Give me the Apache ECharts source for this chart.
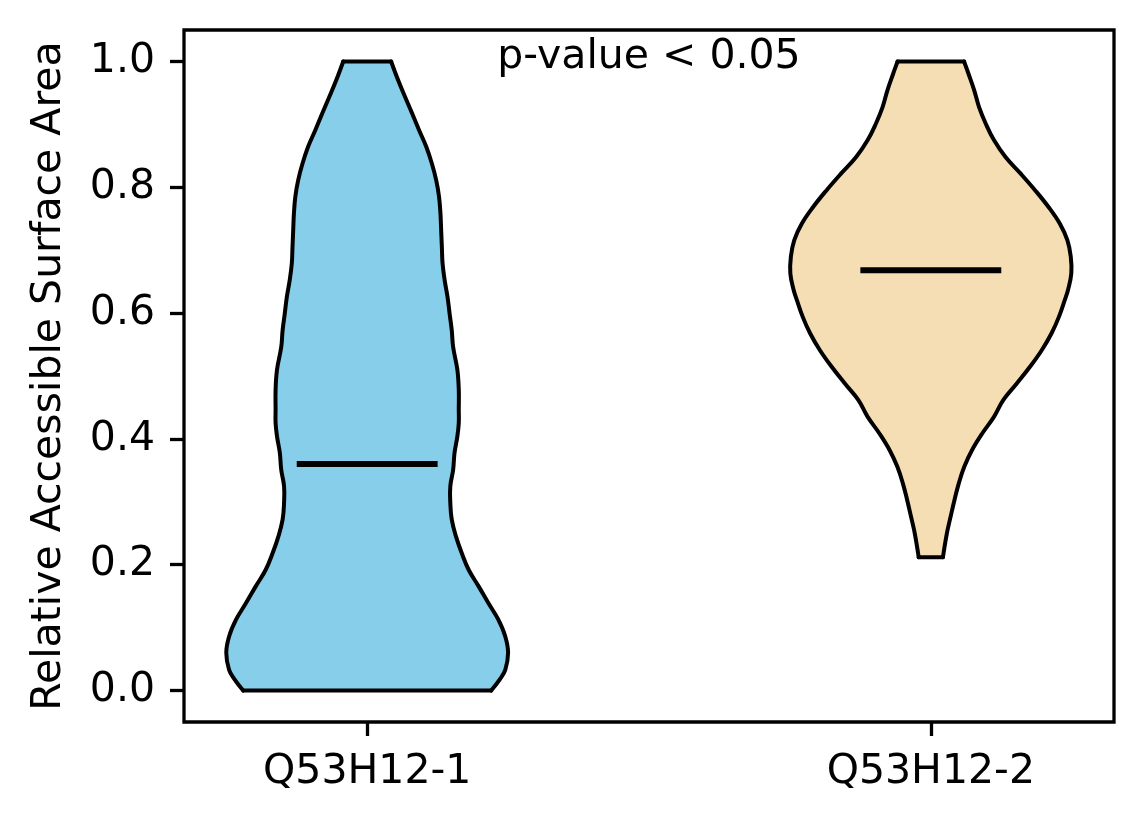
<!DOCTYPE html>
<html>
<head>
<meta charset="utf-8">
<title>Relative Accessible Surface Area</title>
<script src="https://cdn.jsdelivr.net/npm/echarts@6/dist/echarts.min.js"></script>
<style>
	html, body { margin: 0; padding: 0; background: #fff; }
	#main { width: 1144px; height: 824px; }
</style>
</head>
<body>
<div id="main"></div>
<script>
// categories and medians
var categories = ['Q53H12-1', 'Q53H12-2']
var medians = [0.36, 0.668]
var yTicks = [0, 0.2, 0.4, 0.6, 0.8, 1.0]
var note = 'p-value < 0.05'

// violin outlines: y value and density (1 = widest point)
var v1Y = [0.0, 0.0175, 0.033, 0.06, 0.086, 0.113, 0.139, 0.166, 0.192, 0.219, 0.245, 0.272,
	0.298, 0.325, 0.351, 0.378, 0.404, 0.425, 0.446, 0.478, 0.51, 0.546, 0.573, 0.599, 0.626,
	0.652, 0.679, 0.705, 0.732, 0.758, 0.785, 0.811, 0.837, 0.864, 0.89, 0.917, 0.943, 0.97, 1.0]
var v1D = [0.88, 0.94, 0.98, 1.0, 0.98, 0.93, 0.86, 0.79, 0.72, 0.67, 0.63, 0.6,
	0.59, 0.59, 0.61, 0.62, 0.64, 0.65, 0.65, 0.65, 0.64, 0.61, 0.6, 0.585, 0.57,
	0.55, 0.535, 0.53, 0.525, 0.52, 0.51, 0.49, 0.46, 0.42, 0.37, 0.32, 0.27, 0.22, 0.17]

var v2Y = [0.212, 0.25, 0.276, 0.303, 0.329, 0.356, 0.382, 0.409, 0.435, 0.462, 0.488, 0.515,
	0.541, 0.568, 0.594, 0.621, 0.637, 0.663, 0.69, 0.716, 0.742, 0.769, 0.795, 0.822, 0.848,
	0.875, 0.901, 0.927, 0.954, 0.98, 1.0]
var v2D = [0.086, 0.114, 0.14, 0.168, 0.198, 0.238, 0.292, 0.366, 0.448, 0.515, 0.61, 0.705,
	0.787, 0.857, 0.909, 0.951, 0.974, 0.997, 0.993, 0.969, 0.916, 0.834, 0.741, 0.636, 0.53,
	0.448, 0.39, 0.343, 0.308, 0.268, 0.236]

var profiles = [{y: v1Y, d: v1D}, {y: v2Y, d: v2D}]
var fills = ['#87CEEB', '#F5DEB3']
var font = 'DejaVu Sans'

var chart = echarts.init(document.getElementById('main'), null, {renderer: 'canvas'})

function renderViolin(params, api){
	var i = params.dataIndex,
		pos = api.value(0),
		prof = profiles[i],
		half = 0.25,
		left = [], right = []
	for(var k = 0; k < prof.y.length; k++){
		left.push(api.coord([pos - half * prof.d[k], prof.y[k]]))
		right.push(api.coord([pos + half * prof.d[k], prof.y[k]]))
	}
	var n = left.length - 1,
		edge = {stroke: '#000', lineWidth: 4, lineCap: 'round', fill: null},
		m0 = api.coord([pos - 0.125, api.value(1)]),
		m1 = api.coord([pos + 0.125, api.value(1)])
	return {
		type: 'group',
		children: [
			// body
			{type: 'polygon', shape: {points: left.concat(right.slice().reverse())},
				style: {fill: fills[i], stroke: null}},
			// outline: smooth sides, flat ends
			{type: 'polyline', shape: {points: left.slice(), smooth: 0.4}, style: edge},
			{type: 'polyline', shape: {points: right.slice(), smooth: 0.4}, style: edge},
			{type: 'line', shape: {x1: left[0][0], y1: left[0][1], x2: right[0][0], y2: right[0][1]}, style: edge},
			{type: 'line', shape: {x1: left[n][0], y1: left[n][1], x2: right[n][0], y2: right[n][1]}, style: edge},
			// median
			{type: 'line', shape: {x1: m0[0], y1: m0[1], x2: m1[0], y2: m1[1]},
				style: {stroke: '#000', lineWidth: 6}}
		]
	}
}

function renderNote(params, api){
	var p = api.coord([api.value(0), api.value(1)])
	return {
		type: 'text', x: p[0], y: p[1] - 4,
		style: {text: note, fill: '#000', font: '41px "' + font + '"', align: 'center', verticalAlign: 'middle'}
	}
}

chart.setOption({
	animation: false,
	backgroundColor: '#fff',
	grid: {left: 184, right: 30, top: 30, bottom: 102, show: true, borderColor: '#000', borderWidth: 3.3},
	xAxis: {
		type: 'value', min: 0.675, max: 2.325,
		axisLine: {show: false, onZero: false},
		splitLine: {show: false},
		axisTick: {show: true, customValues: [1, 2], length: 14, lineStyle: {color: '#000', width: 3.3}},
		axisLabel: {
			customValues: [1, 2], margin: 30, color: '#000', fontSize: 41, fontFamily: font,
			formatter: function(v){ return categories[Math.round(v) - 1] }
		}
	},
	yAxis: {
		type: 'value', min: -0.05, max: 1.05,
		name: 'Relative Accessible Surface Area', nameLocation: 'middle', nameGap: 114,
		nameTextStyle: {color: '#000', fontSize: 41, fontFamily: font},
		axisLine: {show: false, onZero: false},
		splitLine: {show: false},
		axisTick: {show: true, customValues: yTicks, length: 14, lineStyle: {color: '#000', width: 3.3}},
		axisLabel: {
			customValues: yTicks, margin: 29, color: '#000', fontSize: 41, fontFamily: font,
			padding: [10, 0, 0, 0],
			formatter: function(v){ return v.toFixed(1) }
		}
	},
	series: [
		{type: 'custom', renderItem: renderViolin, clip: false,
			data: categories.map(function(c, i){ return [i + 1, medians[i]] })},
		{type: 'custom', renderItem: renderNote, clip: false, data: [[1.5, 1.0]]}
	]
})
</script>
</body>
</html>
